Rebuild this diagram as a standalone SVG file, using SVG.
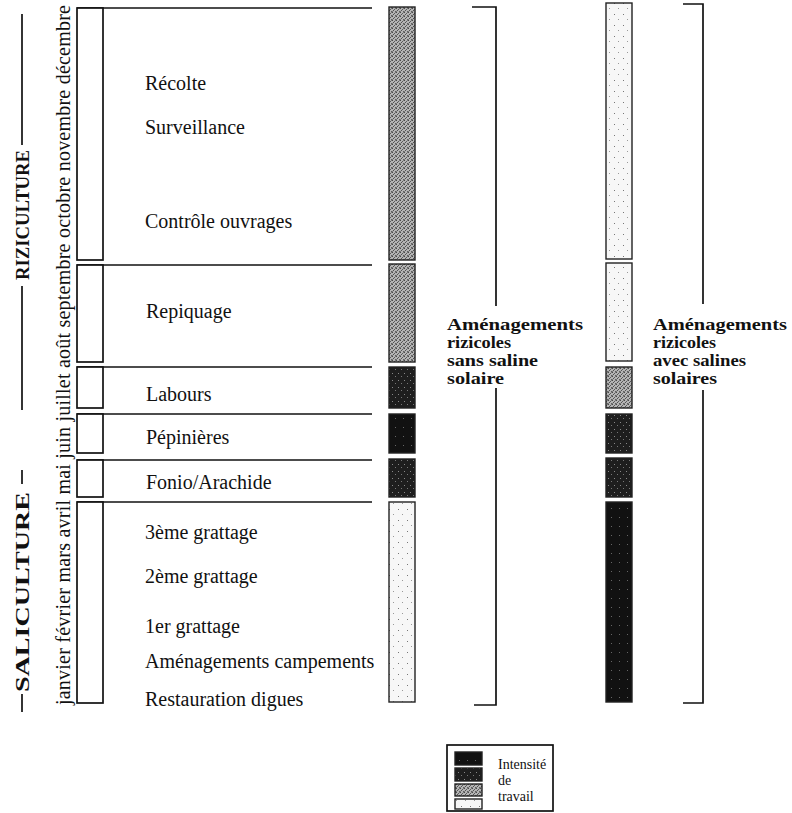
<svg xmlns="http://www.w3.org/2000/svg" width="792" height="813" viewBox="0 0 792 813">
  <defs>
    <pattern id="pLight" width="9" height="11" patternUnits="userSpaceOnUse">
      <rect width="9" height="11" fill="#f7f7f7"/>
      <rect x="2" y="3" width="1" height="1" fill="#777"/>
      <rect x="6" y="8" width="1" height="1" fill="#999"/>
    </pattern>
    <pattern id="pMed" width="4" height="4" patternUnits="userSpaceOnUse">
      <rect width="4" height="4" fill="#b4b4b4"/>
      <rect x="0" y="0" width="1" height="1" fill="#4a4a4a"/>
      <rect x="2" y="1" width="1" height="1" fill="#5a5a5a"/>
      <rect x="1" y="2" width="1" height="1" fill="#505050"/>
      <rect x="3" y="3" width="1" height="1" fill="#606060"/>
      <rect x="3" y="0" width="1" height="1" fill="#7a7a7a"/>
      <rect x="0" y="3" width="1" height="1" fill="#7a7a7a"/>
    </pattern>
    <pattern id="pDark" width="6" height="7" patternUnits="userSpaceOnUse">
      <rect width="6" height="7" fill="#1e1e1e"/>
      <rect x="2" y="2" width="1" height="1" fill="#888"/>
      <rect x="5" y="5" width="1" height="1" fill="#777"/>
    </pattern>
    <pattern id="pBlack" width="8" height="9" patternUnits="userSpaceOnUse">
      <rect width="8" height="9" fill="#111"/>
      <rect x="3" y="4" width="1" height="1" fill="#666"/>
    </pattern>
  </defs>
  <style>
    .ln { stroke: #111; stroke-width: 1.7; fill: none; }
    .box { stroke: #111; stroke-width: 1.7; fill: #fff; }
    .bar { stroke: #222; stroke-width: 1.4; }
    .lbl { font-family: "Liberation Serif", "Times New Roman", serif; font-size: 20px; fill: #111; }
    .mon { font-family: "Liberation Serif", "Times New Roman", serif; font-size: 20px; fill: #111; }
    .big { font-family: "Liberation Serif", "Times New Roman", serif; font-size: 19px; font-weight: bold; fill: #111; }
    .ttl { font-family: "Liberation Serif", "Times New Roman", serif; font-size: 17px; font-weight: bold; fill: #111; }
    .leg { font-family: "Liberation Serif", "Times New Roman", serif; font-size: 14px; fill: #111; }
  </style>
  <rect width="792" height="813" fill="#fff"/>

  <g id="axis">
    <text class="mon" transform="translate(70,705) rotate(-90)" textLength="700" lengthAdjust="spacing">janvier février mars avril mai juin juillet août septembre octobre novembre décembre</text>
    <line class="ln" x1="22" y1="14" x2="22" y2="145"/>
    <text class="big" transform="translate(29,280) rotate(-90)" textLength="130" lengthAdjust="spacingAndGlyphs">RIZICULTURE</text>
    <line class="ln" x1="22" y1="286" x2="22" y2="410"/>
    <line class="ln" x1="22" y1="470" x2="22" y2="484"/>
    <text class="big" transform="translate(29,692) rotate(-90)" textLength="200" lengthAdjust="spacingAndGlyphs">SALICULTURE</text>
    <line class="ln" x1="22" y1="694" x2="22" y2="712"/>
  </g>

  <g id="row-riz1">
    <line class="ln" x1="77" y1="8" x2="372" y2="8"/>
    <rect class="box" x="77" y="8" width="26" height="252"/>
    <text class="lbl" x="145" y="90">Récolte</text>
    <text class="lbl" x="145" y="134">Surveillance</text>
    <text class="lbl" x="145" y="228">Contrôle ouvrages</text>
  </g>
  <g id="row-repiquage">
    <line class="ln" x1="77" y1="265" x2="372" y2="265"/>
    <rect class="box" x="77" y="265" width="26" height="97"/>
    <text class="lbl" x="146" y="318">Repiquage</text>
  </g>
  <g id="row-labours">
    <line class="ln" x1="77" y1="367" x2="372" y2="367"/>
    <rect class="box" x="77" y="367" width="26" height="41"/>
    <text class="lbl" x="146" y="401">Labours</text>
  </g>
  <g id="row-pepinieres">
    <line class="ln" x1="77" y1="414" x2="372" y2="414"/>
    <rect class="box" x="77" y="414" width="26" height="39"/>
    <text class="lbl" x="146" y="444">Pépinières</text>
  </g>
  <g id="row-fonio">
    <line class="ln" x1="77" y1="460" x2="372" y2="460"/>
    <rect class="box" x="77" y="460" width="26" height="37"/>
    <text class="lbl" x="146" y="489">Fonio/Arachide</text>
  </g>
  <g id="row-sel">
    <line class="ln" x1="77" y1="502" x2="372" y2="502"/>
    <rect class="box" x="77" y="502" width="26" height="201"/>
    <text class="lbl" x="145" y="539">3ème grattage</text>
    <text class="lbl" x="145" y="583">2ème grattage</text>
    <text class="lbl" x="145" y="633">1er grattage</text>
    <text class="lbl" x="145" y="668">Aménagements campements</text>
    <text class="lbl" x="145" y="706">Restauration digues</text>
  </g>

  <g id="bar-sans-saline">
    <rect class="bar" x="389" y="7" width="26" height="253" fill="url(#pMed)"/>
    <rect class="bar" x="389" y="264" width="26" height="98" fill="url(#pMed)"/>
    <rect class="bar" x="389" y="367" width="26" height="41" fill="url(#pDark)"/>
    <rect class="bar" x="389" y="414" width="26" height="39" fill="url(#pBlack)"/>
    <rect class="bar" x="389" y="459" width="26" height="38" fill="url(#pDark)"/>
    <rect class="bar" x="389" y="502" width="26" height="200" fill="url(#pLight)"/>
  </g>

  <g id="bar-avec-salines">
    <rect class="bar" x="606" y="3" width="26" height="256" fill="url(#pLight)"/>
    <rect class="bar" x="606" y="263" width="26" height="98" fill="url(#pLight)"/>
    <rect class="bar" x="606" y="367" width="26" height="41" fill="url(#pMed)"/>
    <rect class="bar" x="606" y="414" width="26" height="39" fill="url(#pDark)"/>
    <rect class="bar" x="606" y="458" width="26" height="39" fill="url(#pDark)"/>
    <rect class="bar" x="606" y="502" width="26" height="200" fill="url(#pBlack)"/>
  </g>

  <g id="connectors">
    <polyline class="ln" points="472,7 496,7 496,306"/>
    <polyline class="ln" points="496,388 496,705 474,705"/>
    <polyline class="ln" points="683,4 703,4 703,304"/>
    <polyline class="ln" points="703,390 703,703 683,703"/>
  </g>

  <g id="label-sans-saline">
    <text class="ttl" x="447" y="330" textLength="136" lengthAdjust="spacingAndGlyphs">Aménagements</text>
    <text class="ttl" x="447" y="348" textLength="64" lengthAdjust="spacingAndGlyphs">rizicoles</text>
    <text class="ttl" x="447" y="366" textLength="91" lengthAdjust="spacingAndGlyphs">sans saline</text>
    <text class="ttl" x="447" y="384" textLength="57" lengthAdjust="spacingAndGlyphs">solaire</text>
  </g>
  <g id="label-avec-salines">
    <text class="ttl" x="653" y="330" textLength="134" lengthAdjust="spacingAndGlyphs">Aménagements</text>
    <text class="ttl" x="653" y="348" textLength="63" lengthAdjust="spacingAndGlyphs">rizicoles</text>
    <text class="ttl" x="653" y="366" textLength="93" lengthAdjust="spacingAndGlyphs">avec salines</text>
    <text class="ttl" x="653" y="384" textLength="64" lengthAdjust="spacingAndGlyphs">solaires</text>
  </g>

  <g id="legend">
    <rect class="ln" x="447" y="745" width="106" height="66"/>
    <rect class="bar" x="455" y="752" width="27" height="13" fill="url(#pBlack)"/>
    <rect class="bar" x="455" y="768" width="27" height="13" fill="url(#pDark)"/>
    <rect class="bar" x="455" y="784" width="27" height="12" fill="url(#pMed)"/>
    <rect class="bar" x="455" y="799" width="27" height="10" fill="url(#pLight)"/>
    <text class="leg" x="498" y="769">Intensité</text>
    <text class="leg" x="498" y="785">de</text>
    <text class="leg" x="498" y="801">travail</text>
  </g>
</svg>
